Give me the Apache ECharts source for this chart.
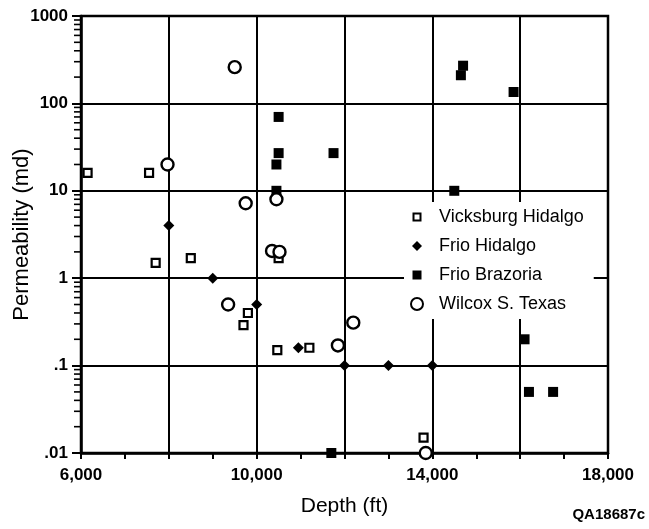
<!DOCTYPE html>
<html><head><meta charset="utf-8">
<script src="https://cdn.jsdelivr.net/npm/echarts@6/dist/echarts.min.js"></script>
<style>html,body{margin:0;padding:0;background:#fff}#c{width:649px;height:529px}</style>
</head><body><div id="c"></div>
<script>
// Depth (ft), Permeability (md)
const vicksburgHidalgo = [[6150,16],[7550,16],[7700,1.5],[8500,1.7],[10500,1.7],[9700,0.29],[9800,0.4],[10470,0.15],[11200,0.16],[13800,0.015]];
const frioHidalgo = [[8000,4],[9000,1],[10000,0.5],[10950,0.16],[12000,0.1],[13000,0.1],[14000,0.1]];
const frioBrazoria = [[10500,70],[10500,27],[10450,20],[10450,10],[11750,27],[14700,270],[14650,210],[15850,135],[14500,10],[16100,0.2],[16200,0.05],[16750,0.05],[11700,0.01]];
const wilcoxSTexas = [[9500,260],[7970,20],[9750,7.2],[10450,8],[10350,2.05],[10520,2.0],[9350,0.5],[11850,0.17],[12200,0.31],[13850,0.01]];
const xLabelValues = [6000,10000,14000,18000];
const yTickLabels = {0.01:'.01',0.1:'.1',1:'1',10:'10',100:'100',1000:'1000'};
const yMinorTicks = [];
[0.01,0.1,1,10,100].forEach(d=>{for(let k=2;k<=9;k++) yMinorTicks.push(+(d*k).toPrecision(3));});

const chart = echarts.init(document.getElementById('c'));
const F = 'Liberation Sans, Arial, sans-serif';
chart.setOption({
  animation:false,
  backgroundColor:'#fff',
  grid:{left:81,right:41,top:16,bottom:76,containLabel:false,outerBoundsMode:'none',
    show:true,borderColor:'#000',borderWidth:2.5,backgroundColor:'transparent'},
  xAxis:{type:'value',min:6000,max:18000,interval:2000,
    axisLine:{lineStyle:{color:'#000',width:2.5}},
    axisTick:{show:true,length:6,lineStyle:{color:'#000',width:2}},
    minorTick:{show:true,splitNumber:2,length:6,lineStyle:{color:'#000',width:2}},
    splitLine:{show:true,lineStyle:{color:'#000',width:2}},
    axisLabel:{margin:14,color:'#000',fontFamily:F,fontSize:17,fontWeight:'bold',
      formatter:v=>xLabelValues.indexOf(v)>=0?echarts.format.addCommas(v):''},
    name:'Depth (ft)',nameLocation:'middle',nameGap:43,nameMoveOverlap:false,
    nameTextStyle:{color:'#000',fontFamily:F,fontSize:21}
  },
  yAxis:{type:'log',logBase:10,min:0.01,max:1000,
    axisLine:{lineStyle:{color:'#000',width:2.5}},
    axisTick:{show:true,length:9,lineStyle:{color:'#000',width:2}},
    splitLine:{show:true,lineStyle:{color:'#000',width:2}},
    axisLabel:{margin:13,color:'#000',fontFamily:F,fontSize:17,fontWeight:'bold',
      formatter:v=>yTickLabels[+v.toPrecision(3)]||''},
    name:'Permeability (md)',nameLocation:'middle',nameGap:48,nameMoveOverlap:false,
    nameTextStyle:{color:'#000',fontFamily:F,fontSize:22}
  },
  legend:{orient:'vertical',left:404,top:202,itemWidth:12,itemHeight:12,itemGap:11,
    backgroundColor:'#fff',padding:[6,10,6,6],
    textStyle:{color:'#000',fontFamily:F,fontSize:18,padding:[0,0,0,11]},
    data:[
      {name:'Vicksburg Hidalgo',icon:'path://M0,0M12,12M2.5,2.5h7v7h-7z'},
      {name:'Frio Hidalgo',icon:'path://M0,0M12,12M6,1L11,6L6,11L1,6z'},
      {name:'Frio Brazoria',icon:'path://M0,0M12,12M1.5,1.5h9v9h-9z'},
      {name:'Wilcox S. Texas',icon:'circle'}
    ]},
  graphic:[{type:'text',right:4,top:507,style:{text:'QA18687c',font:'bold 15px '+F,fill:'#000'}}],
  series:[
    {type:'custom',silent:true,clip:false,z:1,data:yMinorTicks.map(v=>[6000,v]),
      renderItem:(p,api)=>{const pt=api.coord([api.value(0),api.value(1)]);
        return {type:'line',shape:{x1:pt[0]-7,y1:pt[1],x2:pt[0],y2:pt[1]},style:{stroke:'#000',lineWidth:1.6}};}},
    {name:'Vicksburg Hidalgo',type:'scatter',symbol:'rect',symbolSize:8,data:vicksburgHidalgo,z:5,
      itemStyle:{color:'#fff',borderColor:'#000',borderWidth:2.2,opacity:1}},
    {name:'Frio Hidalgo',type:'scatter',symbol:'diamond',symbolSize:11,data:frioHidalgo,z:5,
      itemStyle:{color:'#000',opacity:1}},
    {name:'Frio Brazoria',type:'scatter',symbol:'rect',symbolSize:10,data:frioBrazoria,z:5,
      itemStyle:{color:'#000',opacity:1}},
    {name:'Wilcox S. Texas',type:'scatter',symbol:'circle',symbolSize:12,data:wilcoxSTexas,z:5,
      itemStyle:{color:'#fff',borderColor:'#000',borderWidth:2.4,opacity:1}}
  ]
});
</script></body></html>
